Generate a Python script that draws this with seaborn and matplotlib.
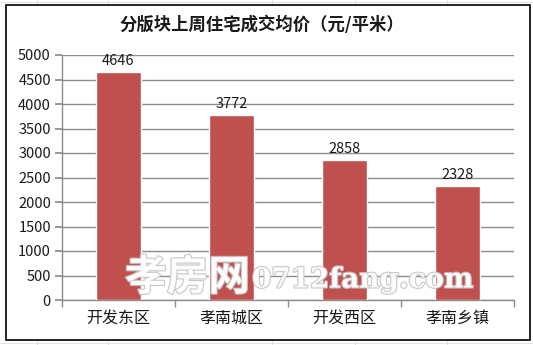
import matplotlib
matplotlib.use("Agg")
import matplotlib.pyplot as plt
import matplotlib.patheffects as pe
from matplotlib.patches import Rectangle
import seaborn as sns
import pandas as pd

categories = ["开发东区", "孝南城区", "开发西区", "孝南乡镇"]
values = [4646, 3772, 2858, 2328]
yticks = [0, 500, 1000, 1500, 2000, 2500, 3000, 3500, 4000, 4500, 5000]
title = "分版块上周住宅成交均价（元/平米）"

sns.set_theme(style="white")
plt.rcParams['font.family'] = ['Noto Sans CJK SC', 'DejaVu Sans']

W, H = 533, 345
fig = plt.figure(figsize=(W / 100, H / 100), dpi=100)
fig.patch.set_facecolor("white")

# spreadsheet background lines
for x in [37, 108, 272, 355, 447]:
    fig.add_artist(plt.Line2D([x / W, x / W], [0, 1], color="#dcdcdc", lw=0.6, zorder=0))
for y in [2, 343]:
    fig.add_artist(plt.Line2D([0, 1], [1 - y / H, 1 - y / H], color="#dcdcdc", lw=0.6, zorder=0))

# chart frame
fig.add_artist(Rectangle((6 / W, 1 - 340 / H), (530 - 6) / W, (340 - 5) / H,
                         transform=fig.transFigure, facecolor="white",
                         edgecolor="black", lw=1.2, zorder=1))

ax = fig.add_axes([62 / W, 1 - 300 / H, (514 - 62) / W, (300 - 55) / H])
ax.set_zorder(2)
ax.patch.set_alpha(0)

df = pd.DataFrame({"cat": categories, "val": values})
sns.barplot(data=df, x="cat", y="val", ax=ax, color="#C0504D", saturation=1,
            width=0.4, zorder=3)

ax.set_ylim(0, 5000)
ax.set_xlim(-0.5, 3.5)
ax.set_yticks(yticks)
ax.set_yticklabels([str(v) for v in yticks], fontsize=10.5, color="#1a1a1a")
ax.yaxis.grid(True, color="#8c8c8c", lw=1)
ax.set_axisbelow(True)
ax.set_xlabel("")
ax.set_ylabel("")
ax.tick_params(axis="x", length=0, pad=7, labelsize=11.5, labelcolor="#1a1a1a")
ax.tick_params(axis="y", length=5, color="#8c8c8c", left=True, pad=3)

# minor ticks at category boundaries
ax.set_xticks([-0.5, 0.5, 1.5, 2.5, 3.5], minor=True)
ax.tick_params(axis="x", which="minor", length=5, color="#8c8c8c", bottom=True, direction="out")

for s in ["top", "right"]:
    ax.spines[s].set_visible(False)
for s in ["left", "bottom"]:
    ax.spines[s].set_color("#8c8c8c")
    ax.spines[s].set_linewidth(1)

for i, v in enumerate(values):
    ax.text(i, v + 80, str(v), ha="center", va="bottom", fontsize=10.5, color="#1a1a1a")

fig.text(0.492, 1 - 25 / H, title, ha="center", va="center", fontsize=12.5,
         fontweight="bold", color="#1a1a1a")

# watermark
fig.text(125 / W, 1 - 278 / H, "孝房网", ha="left", va="center", fontsize=30,
         fontweight="bold", color="white", alpha=0.9, zorder=5,
         path_effects=[pe.withStroke(linewidth=1.6, foreground="#c4c4c4")])
fig.text(252 / W, 1 - 280 / H, "0712fang.com", ha="left", va="center", fontsize=20,
         family="DejaVu Serif", fontweight="bold", color="white", alpha=0.9, zorder=5,
         path_effects=[pe.withStroke(linewidth=1.6, foreground="#c4c4c4")])

fig.savefig("out.png", dpi=100)
